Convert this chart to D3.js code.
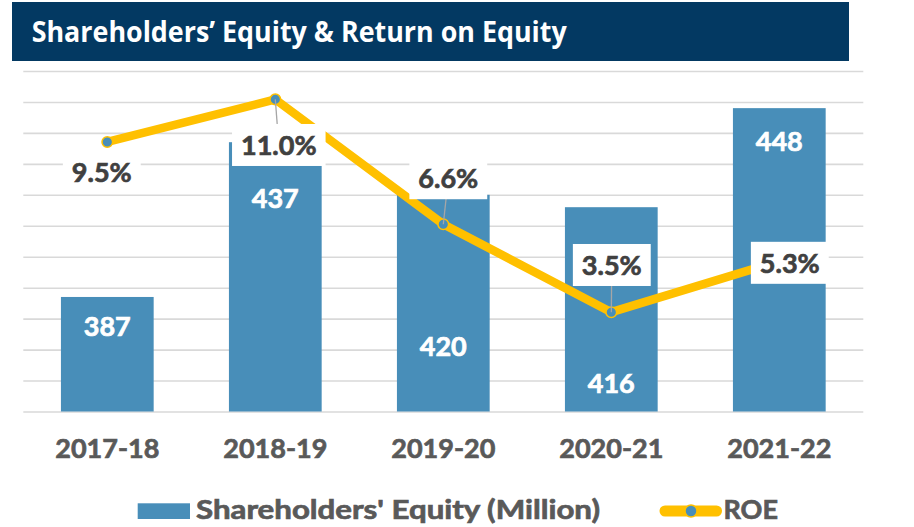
<!DOCTYPE html>
<html>
<head>
<meta charset="utf-8">
<script src="https://cdn.jsdelivr.net/npm/d3@7"></script>
<style>
  html, body { margin: 0; padding: 0; background: #fff; }
  svg { display: block; }
</style>
</head>
<body>
<svg id="chart" width="914" height="527"></svg>
<script>
// ---- data ----
const title = "Shareholders\u2019 Equity & Return on Equity";
const categories = ["2017-18", "2018-19", "2019-20", "2020-21", "2021-22"];
const equity = [387, 437, 420, 416, 448];
const roe = [9.5, 11.0, 6.6, 3.5, 5.3];
const equityLabels = ["387", "437", "420", "416", "448"];
const roeLabels = ["9.5%", "11.0%", "6.6%", "3.5%", "5.3%"];
const legendNames = ["Shareholders' Equity (Million)", "ROE"];

// ---- layout (label placement, not data) ----
const barLabelOffset = [39, 66, 161, 186, 43];           // baseline below bar top
const roeLabelDx = [-5.5, 3.5, 5, 0.5, 10.5];
const roeLabelDy = [30.6, 45.6, -46, -47.2, 1.7];
const roeLeader = [false, true, true, true, false];

const svg = d3.select("#chart");
const plotLeft = 23.3, plotRight = 863.3, plotTop = 71, plotBottom = 411.5;

const barColor = "#488EB9";
const lineColor = "#FFC000";
const textGray = "#595959";
const labelDark = "#404040";
const font = "Lato, 'Open Sans', sans-serif";
const heavy = sel => sel.attr("font-family", font).attr("font-weight", 700).attr("font-size", 27)
  .attr("stroke-width", 0.7).attr("paint-order", "stroke");

// title bar
svg.append("rect").attr("x", 12).attr("y", 2).attr("width", 837).attr("height", 59).attr("fill", "#033962");
svg.append("text").attr("x", 31.7).attr("y", 41.5)
  .attr("font-family", "'Open Sans', sans-serif").attr("font-weight", 700).attr("font-size", 28)
  .attr("fill", "#fff").attr("textLength", 535).attr("lengthAdjust", "spacingAndGlyphs")
  .text(title);

// scales
const x = d3.scaleBand().domain(categories).range([plotLeft, plotRight]).paddingInner(0.448).paddingOuter(0.224);
const yBar = d3.scaleLinear().domain([350, 460]).range([plotBottom, plotTop]);
const yRoe = d3.scaleLinear().domain([0, 12]).range([plotBottom, plotTop]);

// gridlines
const yAxis = d3.axisLeft(yBar).tickValues(d3.range(350, 461, 10)).tickSize(-(plotRight - plotLeft)).tickFormat("");
const ga = svg.append("g").attr("transform", `translate(${plotLeft},0)`).call(yAxis);
ga.select(".domain").remove();
ga.selectAll(".tick line").attr("stroke", "#D9D9D9").attr("stroke-width", 1.6);

// bars
svg.append("g").selectAll("rect").data(equity).join("rect")
  .attr("x", (d, i) => x(categories[i]))
  .attr("width", x.bandwidth())
  .attr("y", d => yBar(d))
  .attr("height", d => plotBottom - yBar(d))
  .attr("fill", barColor);

// bar labels
svg.append("g").selectAll("text").data(equity).join("text")
  .attr("x", (d, i) => x(categories[i]) + x.bandwidth() / 2)
  .attr("y", (d, i) => yBar(d) + barLabelOffset[i])
  .attr("text-anchor", "middle")
  .call(heavy)
  .attr("fill", "#fff").attr("stroke", "#fff")
  .text((d, i) => equityLabels[i]);

// x axis labels
const xAxis = d3.axisBottom(x).tickSize(0).tickPadding(0);
const gx = svg.append("g").attr("transform", `translate(0,${plotBottom})`).call(xAxis);
gx.select(".domain").remove();
gx.selectAll("text").attr("y", 46).attr("dy", null)
  .call(heavy).attr("fill", textGray).attr("stroke", textGray);

// ROE line
const pts = roe.map((v, i) => [x(categories[i]) + x.bandwidth() / 2, yRoe(v)]);
svg.append("path").datum(pts)
  .attr("d", d3.line())
  .attr("fill", "none").attr("stroke", lineColor).attr("stroke-width", 8.5)
  .attr("stroke-linejoin", "round").attr("stroke-linecap", "round");
svg.append("g").selectAll("circle").data(pts).join("circle")
  .attr("cx", d => d[0]).attr("cy", d => d[1]).attr("r", 5.3)
  .attr("fill", barColor).attr("stroke", lineColor).attr("stroke-width", 1.5);

// ROE labels
const lg = svg.append("g");
roe.forEach((v, i) => {
  const cx = pts[i][0] + roeLabelDx[i], cy = pts[i][1] + roeLabelDy[i];
  if (roeLeader[i]) {
    lg.append("line").attr("x1", pts[i][0]).attr("y1", pts[i][1]).attr("x2", cx).attr("y2", cy)
      .attr("stroke", "#A6A6A6").attr("stroke-width", 1.3);
  }
  const box = lg.append("rect").attr("fill", "#fff");
  const t = lg.append("text").attr("x", cx).attr("y", cy + 9.7)
    .attr("text-anchor", "middle")
    .call(heavy)
    .attr("fill", labelDark).attr("stroke", labelDark).text(roeLabels[i]);
  const bb = t.node().getBBox();
  const pad = 9;
  box.attr("x", bb.x - pad).attr("width", bb.width + 2 * pad)
     .attr("y", cy - 21).attr("height", 42);
});

// legend
svg.append("rect").attr("x", 137.7).attr("y", 503.3).attr("width", 52.3).attr("height", 15.7).attr("fill", barColor);
svg.append("text").attr("x", 196).attr("y", 519.3)
  .call(heavy).attr("fill", textGray).attr("stroke", textGray)
  .attr("textLength", 404).attr("lengthAdjust", "spacingAndGlyphs")
  .text(legendNames[0]);
svg.append("line").attr("x1", 665).attr("x2", 716.5).attr("y1", 511).attr("y2", 511)
  .attr("stroke", lineColor).attr("stroke-width", 11).attr("stroke-linecap", "round");
svg.append("circle").attr("cx", 691).attr("cy", 511).attr("r", 6).attr("fill", barColor)
  .attr("stroke", lineColor).attr("stroke-width", 1.5);
svg.append("text").attr("x", 723.5).attr("y", 519.3)
  .call(heavy).attr("fill", textGray).attr("stroke", textGray)
  .text(legendNames[1]);
</script>
</body>
</html>
